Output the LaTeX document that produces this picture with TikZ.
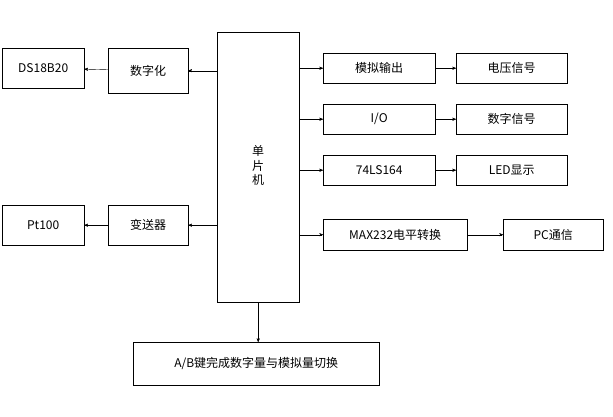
\documentclass[tikz,border=0pt]{standalone}
\usepackage{fontspec}
\setmainfont{Noto Sans CJK SC}
\usetikzlibrary{arrows,positioning}

\begin{document}
\begin{tikzpicture}[x=1pt,y=-1pt,->,>=stealth',thin]
\tikzstyle{blk}=[draw,thin,font=\fontsize{12}{14}\selectfont,inner sep=0pt,anchor=north west]
\useasboundingbox (0,0) rectangle (613,416);

\node[blk,minimum width=82pt,minimum height=270pt] (MCU) at (217,32) {\begin{tabular}{c}单\\片\\机\end{tabular}};
\node[blk,minimum width=82pt,minimum height=40pt]  (DS)  at (2,48)   {DS18B20};
\node[blk,minimum width=80pt,minimum height=45pt]  (DIG) at (108,48) {数字化};
\node[blk,minimum width=82pt,minimum height=40pt]  (PT)  at (2,205)  {Pt100};
\node[blk,minimum width=80pt,minimum height=40pt]  (TX)  at (108,205) {变送器};
\node[blk,minimum width=112pt,minimum height=30pt] (AO)  at (323,53)  {模拟输出};
\node[blk,minimum width=111pt,minimum height=30pt] (VS)  at (456,53)  {电压信号};
\node[blk,minimum width=112pt,minimum height=30pt] (IO)  at (323,104) {I/O};
\node[blk,minimum width=111pt,minimum height=30pt] (DSG) at (456,104) {数字信号};
\node[blk,minimum width=112pt,minimum height=30pt] (LS)  at (323,155) {74LS164};
\node[blk,minimum width=111pt,minimum height=30pt] (LED) at (456,155) {LED显示};
\node[blk,minimum width=144pt,minimum height=31pt] (MAX) at (323,219) {MAX232电平转换};
\node[blk,minimum width=100pt,minimum height=31pt] (PC)  at (503,219) {PC通信};
\node[blk,minimum width=246pt,minimum height=43pt] (AB)  at (133,342) {A/B键完成数字量与模拟量切换};

\draw (MCU.west |- DIG.west) -- (DIG.east);
\draw (DIG) -- (DS);
\draw (MCU.west |- TX.west) -- (TX.east);
\draw (TX) -- (PT);
\draw (MCU.east |- AO.west) -- (AO.west);
\draw (AO) -- (VS);
\draw (MCU.east |- IO.west) -- (IO.west);
\draw (IO) -- (DSG);
\draw (MCU.east |- LS.west) -- (LS.west);
\draw (LS) -- (LED);
\draw (MCU.east |- MAX.west) -- (MAX.west);
\draw (MAX) -- (PC);
\draw (MCU.south) -- (AB.north -| MCU.south);
\end{tikzpicture}
\end{document}
